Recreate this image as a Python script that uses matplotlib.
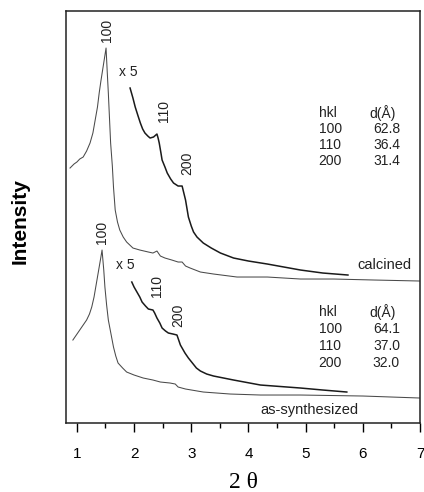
import matplotlib
matplotlib.use("Agg")
import matplotlib.pyplot as plt
from matplotlib.ticker import MultipleLocator

plt.rcParams["font.family"] = ["Liberation Sans", "DejaVu Sans"]

# --- data (2 theta, intensity in arbitrary units) ---
calc_tt = [0.88, 0.95, 1.00, 1.05, 1.11, 1.17, 1.23, 1.28, 1.32, 1.36, 1.39,
           1.42, 1.45, 1.48, 1.51, 1.53, 1.55, 1.57, 1.59, 1.62, 1.64, 1.67,
           1.71, 1.75, 1.81, 1.87, 1.98, 2.10, 2.25, 2.33, 2.40, 2.46, 2.54,
           2.66, 2.77, 2.84, 2.90, 2.98, 3.16, 3.39, 3.80, 4.33, 4.91, 5.49,
           6.20, 7.00]
calc_i = [255, 259, 261, 264, 266, 272, 280, 290, 303, 316, 330,
          342, 353, 364, 375, 352, 330, 305, 280, 257, 236, 213,
          201, 193, 186, 181, 175, 173, 171, 170, 172, 167, 165,
          163, 161, 161, 157, 155, 151, 149, 146, 146, 144, 144,
          143, 142]

calc5_tt = [1.93, 1.98, 2.02, 2.07, 2.11, 2.15, 2.19, 2.24, 2.28, 2.34, 2.40,
            2.42, 2.44, 2.47, 2.49, 2.54, 2.58, 2.64, 2.69, 2.77, 2.84, 2.87,
            2.90, 2.95, 3.00, 3.04, 3.10, 3.21, 3.35, 3.51, 3.74, 4.00, 4.33,
            4.91, 5.30, 5.74]
calc5_i = [335, 325, 316, 307, 300, 294, 290, 287, 285, 286, 289,
           285, 280, 270, 263, 256, 250, 244, 240, 237, 237, 230,
           223, 206, 197, 191, 186, 180, 175, 170, 165, 162, 159,
           153, 150, 148]

syn_tt = [0.93, 0.99, 1.05, 1.11, 1.17, 1.22, 1.26, 1.30, 1.33, 1.36, 1.39,
          1.42, 1.44, 1.47, 1.49, 1.52, 1.55, 1.60, 1.64, 1.68, 1.72, 1.80,
          1.87, 2.00, 2.16, 2.33, 2.46, 2.63, 2.72, 2.77, 2.90, 3.21, 3.68,
          4.21, 4.91, 6.00, 7.00]
syn_i = [83, 88, 93, 98, 103, 109, 116, 126, 136, 146, 156,
         166, 173, 153, 136, 118, 103, 88, 76, 67, 60, 55,
         51, 48, 45, 43, 41, 40, 39, 36, 34, 31, 29,
         28, 28, 27, 25]

syn5_tt = [1.96, 2.00, 2.05, 2.10, 2.14, 2.20, 2.25, 2.33, 2.36, 2.40, 2.45,
           2.49, 2.55, 2.60, 2.68, 2.75, 2.78, 2.81, 2.85, 2.89, 2.95, 3.02,
           3.09, 3.16, 3.27, 3.39, 3.74, 4.21, 4.91, 5.30, 5.72]
syn5_i = [141, 136, 131, 126, 121, 117, 114, 113, 110, 105, 100,
          95, 92, 90, 89, 88, 83, 78, 74, 70, 65, 60,
          55, 52, 49, 47, 43, 38, 35, 33, 31]

hkl = ["100", "110", "200"]
d_calc = ["62.8", "36.4", "31.4"]
d_syn = ["64.1", "37.0", "32.0"]

fig = plt.figure(figsize=(4.24, 4.92), dpi=100)
ax = fig.add_axes([0.1557, 0.1402, 0.8349, 0.8374])

main_kw = dict(color="#4a4a4a", lw=0.75)
x5_kw = dict(color="#1a1a1a", lw=1.1)
ax.plot(calc_tt, calc_i, **main_kw)
ax.plot(calc5_tt, calc5_i, **x5_kw)
ax.plot(syn_tt, syn_i, **main_kw)
ax.plot(syn5_tt, syn5_i, **x5_kw)

ax.set_xlim(0.81, 7.0)
ax.set_ylim(0, 412)
ax.set_yticks([])
ax.xaxis.set_major_locator(MultipleLocator(1))
ax.xaxis.set_minor_locator(MultipleLocator(0.5))
ax.tick_params(axis="x", which="major", direction="out", length=6.5,
               width=1.0, pad=11, labelsize=11)
ax.tick_params(axis="x", which="minor", direction="out", length=3.6,
               width=1.0)
for sp in ax.spines.values():
    sp.set_linewidth(1.1)
    sp.set_color("#222222")

# peak labels
lab = dict(fontsize=10, rotation=90, ha="center", va="center", color="#222")
ax.text(1.526, 393, "100", **lab)
ax.text(2.526, 312, "110", **lab)
ax.text(2.93, 260, "200", **lab)
ax.text(1.44, 191, "100", **lab)
ax.text(2.40, 137, "110", **lab)
ax.text(2.77, 108, "200", **lab)
ax.text(1.895, 351, "x 5", fontsize=10, ha="center", va="center", color="#222")
ax.text(1.84, 158, "x 5", fontsize=10, ha="center", va="center", color="#222")

# d-spacing tables
def table(rows_y, dvals):
    tk = dict(fontsize=10, va="center", color="#222")
    ax.text(5.228, rows_y[0], "hkl", ha="left", **tk)
    ax.text(6.12, rows_y[0], "d(Å)", ha="left", **tk)
    for y, h, d in zip(rows_y[1:], hkl, dvals):
        ax.text(5.228, y, h, ha="left", **tk)
        ax.text(6.65, y, d, ha="right", **tk)

table([310, 294.5, 278, 262], d_calc)
table([111, 94, 77, 60], d_syn)

ax.text(6.386, 158, "calcined", fontsize=10.5, ha="center", va="center",
        color="#222")
ax.text(5.07, 13, "as-synthesized", fontsize=10.5, ha="center", va="center",
        color="#222")

ax.set_xlabel("2 θ", fontsize=17, family=["Liberation Serif", "DejaVu Serif"])
ax.xaxis.set_label_coords(0.5, -0.118)
ax.set_ylabel("Intensity", fontsize=15, fontweight="bold")
ax.yaxis.set_label_coords(-0.102, 0.49)

fig.savefig("out.png", dpi=100)
